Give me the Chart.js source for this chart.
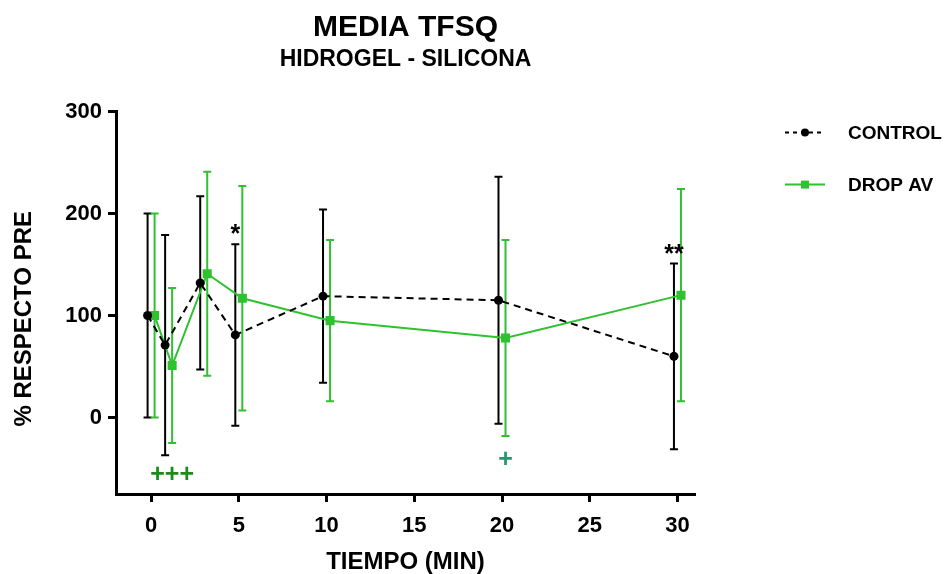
<!DOCTYPE html>
<html><head><meta charset="utf-8">
<script src="https://cdn.jsdelivr.net/npm/chart.js@4.4.0/dist/chart.umd.min.js"></script>
<style>html,body{margin:0;padding:0;background:#fff;} #wrap{width:949px;height:574px;position:relative;}</style>
</head><body><div id="wrap"><canvas id="c"></canvas></div>
<script>
const timePoints = [0, 1, 3, 5, 10, 20, 30];
const controlMean = [100, 71, 132, 81, 119, 115, 60];
const controlSD   = [100, 108, 85, 89, 85, 121, 91];
const dropMean    = [100, 51, 141, 117, 95, 78, 120];
const dropSD      = [100, 76, 100, 110, 79, 96, 104];
const xTicks = [0, 5, 10, 15, 20, 25, 30];
const yTicks = [0, 100, 200, 300];
const seriesNames = ['CONTROL', 'DROP AV'];
const yAxisTitle = '% RESPECTO PRE';
const controlMarks = [{t: 5, text: '*'}, {t: 30, text: '**'}];
const dropMarks = [{t: 1, y: -55, text: '+++'}, {t: 20, y: -40, text: '+'}];

const FONT = "'Liberation Sans', Arial, Helvetica, sans-serif";
const BLACK = '#000000';
const GREEN = '#2fc12f';
const STAGGER = 0.2;

const ctlX = timePoints.map(t => t - STAGGER);
const dropX = timePoints.map(t => t + STAGGER);

const datasets = [
  {
    label: seriesNames[0],
    data: timePoints.map((t, i) => ({x: ctlX[i], y: controlMean[i]})),
    errors: controlSD,
    borderColor: BLACK, backgroundColor: BLACK,
    borderWidth: 2, borderDash: [7, 5],
    pointStyle: 'circle', pointRadius: 4.5, pointBorderWidth: 0,
    pointBackgroundColor: BLACK, tension: 0
  },
  {
    label: seriesNames[1],
    data: timePoints.map((t, i) => ({x: dropX[i], y: dropMean[i]})),
    errors: dropSD,
    borderColor: GREEN, backgroundColor: GREEN,
    borderWidth: 2,
    pointStyle: 'rect', pointRadius: 6.4, pointBorderWidth: 0,
    pointBackgroundColor: GREEN, tension: 0
  }
];

const errorBars = {
  id: 'errorBars',
  beforeDatasetsDraw(chart) {
    const ctx = chart.ctx, xs = chart.scales.x, ys = chart.scales.y;
    chart.data.datasets.forEach((ds) => {
      ctx.save();
      ctx.strokeStyle = ds.borderColor;
      ctx.lineWidth = 2;
      ds.data.forEach((p, i) => {
        const x = xs.getPixelForValue(p.x);
        const yt = ys.getPixelForValue(p.y + ds.errors[i]);
        const yb = ys.getPixelForValue(p.y - ds.errors[i]);
        ctx.beginPath();
        ctx.moveTo(x, yt); ctx.lineTo(x, yb);
        ctx.moveTo(x - 4, yt); ctx.lineTo(x + 4, yt);
        ctx.moveTo(x - 4, yb); ctx.lineTo(x + 4, yb);
        ctx.stroke();
      });
      ctx.restore();
    });
  }
};

const marks = {
  id: 'marks',
  afterDatasetsDraw(chart) {
    const ctx = chart.ctx, xs = chart.scales.x, ys = chart.scales.y;
    ctx.save();
    ctx.textAlign = 'center';
    ctx.fillStyle = BLACK;
    ctx.font = 'bold 25px ' + FONT;
    ctx.textBaseline = 'alphabetic';
    controlMarks.forEach(m => {
      const i = timePoints.indexOf(m.t);
      const x = xs.getPixelForValue(ctlX[i]);
      const y = ys.getPixelForValue(controlMean[i] + controlSD[i]);
      ctx.fillText(m.text, x, y - 2);
    });
    ctx.textBaseline = 'middle';
    ctx.font = 'bold 25px ' + FONT;
    dropMarks.forEach((m, k) => {
      const i = timePoints.indexOf(m.t);
      ctx.fillStyle = k === 0 ? '#1b8c1b' : '#1f9c6c';
      ctx.fillText(m.text, xs.getPixelForValue(dropX[i]), ys.getPixelForValue(m.y) + 2);
    });
    ctx.restore();
  }
};

const extras = {
  id: 'extras',
  afterDraw(chart) {
    const ctx = chart.ctx, a = chart.chartArea;
    // y axis title
    ctx.save();
    ctx.translate(24, (a.top + a.bottom) / 2 + 16);
    ctx.rotate(-Math.PI / 2);
    ctx.fillStyle = BLACK;
    ctx.font = 'bold 24px ' + FONT;
    ctx.textAlign = 'center'; ctx.textBaseline = 'middle';
    ctx.fillText(yAxisTitle, 0, 0);
    ctx.restore();
    // legend
    const x0 = a.right + 90;
    const rows = [a.top + 21, a.top + 73];
    chart.data.datasets.forEach((ds, k) => {
      const y = rows[k];
      ctx.save();
      ctx.strokeStyle = ds.borderColor; ctx.lineWidth = 2;
      ctx.setLineDash(k === 0 ? [4, 4] : []);
      ctx.beginPath(); ctx.moveTo(x0, y); ctx.lineTo(x0 + 40, y); ctx.stroke();
      ctx.setLineDash([]);
      ctx.fillStyle = ds.borderColor;
      if (k === 0) { ctx.beginPath(); ctx.arc(x0 + 20, y, 4, 0, Math.PI * 2); ctx.fill(); }
      else { ctx.fillRect(x0 + 16, y - 4, 8, 8); }
      ctx.fillStyle = BLACK;
      ctx.font = 'bold 19px ' + FONT;
      ctx.textBaseline = 'middle'; ctx.textAlign = 'left';
      ctx.fillText(ds.label, x0 + 63, y + 1);
      ctx.restore();
    });
  }
};

new Chart(document.getElementById('c'), {
  type: 'line',
  data: {datasets},
  plugins: [errorBars, marks, extras],
  options: {
    responsive: true, maintainAspectRatio: false, animation: false,
    devicePixelRatio: 1,
    layout: {padding: {left: 0, right: 254, top: 0, bottom: 0}},
    plugins: {
      legend: {display: false},
      tooltip: {enabled: false},
      title: {display: true, text: 'MEDIA TFSQ', color: BLACK, fullSize: false,
        font: {family: FONT, size: 30, weight: 'bold'}, padding: {top: 10, bottom: 0}},
      subtitle: {display: true, text: 'HIDROGEL - SILICONA', color: BLACK, fullSize: false,
        font: {family: FONT, size: 23, weight: 'bold'}, padding: {top: 0, bottom: 38}}
    },
    scales: {
      x: {
        type: 'linear', min: -2, max: 31,
        afterBuildTicks: s => { s.ticks = xTicks.map(v => ({value: v})); },
        afterFit: s => { s.height = 80; },
        grid: {drawOnChartArea: false, drawTicks: true, tickLength: 8, tickWidth: 3, tickColor: BLACK},
        border: {display: true, color: BLACK, width: 3},
        ticks: {color: BLACK, padding: 11, maxRotation: 0, autoSkip: false,
          font: {family: FONT, size: 22, weight: 'bold'}},
        title: {display: true, text: 'TIEMPO (MIN)', color: BLACK,
          font: {family: FONT, size: 24, weight: 'bold', lineHeight: 1}, padding: {top: 0, bottom: 0}}
      },
      y: {
        type: 'linear', min: -75, max: 300,
        afterBuildTicks: s => { s.ticks = yTicks.map(v => ({value: v})); },
        afterFit: s => { s.width = 116; },
        grid: {drawOnChartArea: false, drawTicks: true, tickLength: 8, tickWidth: 3, tickColor: BLACK},
        border: {display: true, color: BLACK, width: 3},
        ticks: {color: BLACK, padding: 6, font: {family: FONT, size: 22, weight: 'bold'}},
        title: {display: false}
      }
    }
  }
});
</script>
</body></html>
